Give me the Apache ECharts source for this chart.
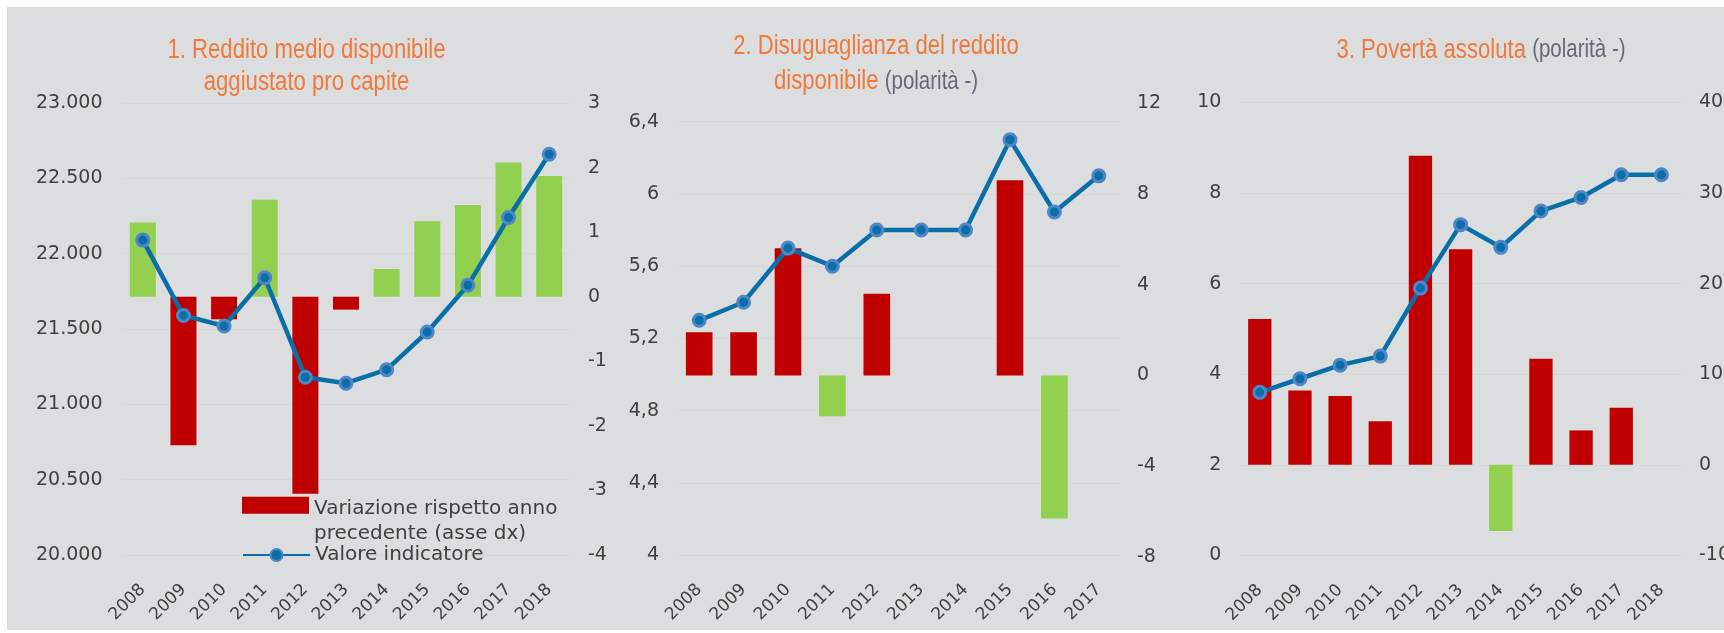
<!DOCTYPE html>
<html>
<head>
<meta charset="utf-8">
<script src="https://cdn.jsdelivr.net/npm/echarts@6/dist/echarts.min.js"></script>
<style>
  html, body { margin: 0; padding: 0; background: #ffffff; }
  #panel { position: absolute; left: 7px; top: 7px; width: 1717px; height: 623px; background: #dcdddf; }
  #chart { position: absolute; left: 0; top: 0; width: 1724px; height: 633px; }
</style>
</head>
<body>
<div id="panel"></div>
<div id="chart"></div>
<script>
// Years on the category axes
const anni2008_2018 = ['2008', '2009', '2010', '2011', '2012', '2013', '2014', '2015', '2016', '2017', '2018'];
const anni2008_2017 = ['2008', '2009', '2010', '2011', '2012', '2013', '2014', '2015', '2016', '2017'];

// 1. Reddito medio disponibile aggiustato pro capite (euro) and yearly change (%)
const redditoValore = [22090, 21590, 21520, 21840, 21180, 21140, 21230, 21480, 21790, 22240, 22660];
const redditoVariazione = [1.15, -2.3, -0.35, 1.5, -3.05, -0.2, 0.43, 1.17, 1.42, 2.08, 1.87];

// 2. Disuguaglianza del reddito disponibile and yearly change (%)
const disuguaglianzaValore = [5.3, 5.4, 5.7, 5.6, 5.8, 5.8, 5.8, 6.3, 5.9, 6.1];
const disuguaglianzaVariazione = [1.9, 1.9, 5.6, -1.8, 3.6, 0, 0, 8.6, -6.3, null];

// 3. Povertà assoluta (%) and yearly change (%)
const povertaValore = [3.6, 3.9, 4.2, 4.4, 5.9, 7.3, 6.8, 7.6, 7.9, 8.4, 8.4];
const povertaVariazione = [16.1, 8.2, 7.6, 4.8, 34.1, 23.8, -7.3, 11.7, 3.8, 6.3, 0];

// Axis ranges: [min, max, step]
const assiReddito = { valore: [20000, 23000, 500], variazione: [-4, 3, 1] };
const assiDisug = { valore: [4, 6.4, 0.4], variazione: [-8, 12, 4] };
const assiPoverta = { valore: [0, 10, 2], variazione: [-10, 40, 10] };

// Panel titles, one entry per line
const titolo1 = ['1. Reddito medio disponibile', 'aggiustato pro capite'];
const titolo2 = ['2. Disuguaglianza del reddito', 'disponibile'];
const titolo3 = ['3. Povertà assoluta'];
const notaPolarita = '(polarità -)';

const NOME_VAR = 'Variazione rispetto anno precedente (asse dx)';
const NOME_VAL = 'Valore indicatore';

const RED = '#c00000';
const GREEN = '#92d050';
const BLUE = '#0a6fa8';
const ORANGE = '#ef7a3a';
const GREY_NOTE = '#676878';
const TXT = '#404040';
const GRIDLINE = '#d5d6d8';
const TITLE_FONT = '"Liberation Sans", Arial, sans-serif';
const SANS = '"DejaVu Sans", sans-serif';
const TITLE_SCALE = 0.82;   // condensed look of the panel titles

const migliaio = v => String(v).replace(/\B(?=(\d{3})+(?!\d))/g, '.');
const decimale = v => String(Math.round(v * 10) / 10).replace('.', ',');

// polarity +1: a rise is good (green); -1: a rise is bad (red)
const coloreBarra = polarita => p => (p.value == null ? RED : (p.value * polarita >= 0 ? GREEN : RED));

function assey(gridIndex, position, range, margin, split, extraLabel) {
  return {
    type: 'value', gridIndex: gridIndex, position: position,
    min: range[0], max: range[1], interval: range[2],
    axisLine: { show: false }, axisTick: { show: false },
    axisLabel: Object.assign({
      margin: margin, fontFamily: SANS, fontSize: 19, color: TXT,
      align: position === 'left' ? 'right' : 'left'
    }, extraLabel || {}),
    splitLine: { show: split, lineStyle: { color: GRIDLINE, width: 1 } }
  };
}

function assex(gridIndex, data, margin, show) {
  return {
    type: 'category', gridIndex: gridIndex, data: data, show: show !== false,
    boundaryGap: true,
    axisLine: { show: false }, axisTick: { show: false }, splitLine: { show: false },
    axisLabel: { rotate: 45, interval: 0, margin: margin, fontFamily: SANS, fontSize: 17, color: TXT }
  };
}

function barre(xi, yi, data, polarita, larghezza) {
  return {
    type: 'bar', name: NOME_VAR, xAxisIndex: xi, yAxisIndex: yi, data: data,
    barWidth: larghezza, z: 2,
    itemStyle: { color: coloreBarra(polarita) }
  };
}

function linea(xi, yi, data) {
  return {
    type: 'line', name: NOME_VAL, xAxisIndex: xi, yAxisIndex: yi, data: data,
    symbol: 'circle', symbolSize: 12, z: 5,
    lineStyle: { color: BLUE, width: 4.5 },
    itemStyle: { color: BLUE, borderColor: '#4f86c6', borderWidth: 3 }
  };
}

// One condensed title line centred at (x, y)
const richTitolo = {
  o: { fontFamily: TITLE_FONT, fontSize: 27, fill: ORANGE, color: ORANGE },
  g: { fontFamily: TITLE_FONT, fontSize: 25, fill: GREY_NOTE, color: GREY_NOTE }
};
function rigaTitolo(x, y, testo, nota) {
  return {
    type: 'text', x: x, y: y, scaleX: TITLE_SCALE, z: 10,
    style: {
      text: nota ? '{o|' + testo + '} {g|' + nota + '}' : '{o|' + testo + '}',
      rich: richTitolo,
      fontFamily: TITLE_FONT, fontSize: 27, fill: ORANGE,
      align: 'center', verticalAlign: 'middle'
    }
  };
}

const option = {
  animation: false,
  backgroundColor: 'transparent',
  graphic: [
    rigaTitolo(306.5, 50.6, titolo1[0]),
    rigaTitolo(306.5, 82.3, titolo1[1]),
    rigaTitolo(876, 47, titolo2[0]),
    rigaTitolo(876, 82, titolo2[1], notaPolarita),
    rigaTitolo(1481, 50.6, titolo3[0], notaPolarita)
  ],
  legend: [
    {
      left: 242, top: 470.3, padding: 0, orient: 'vertical', selectedMode: false,
      icon: 'rect', itemWidth: 67, itemHeight: 17,
      data: [{ name: NOME_VAR, itemStyle: { color: RED } }],
      formatter: () => '{s| }\n{t|Variazione rispetto anno}\n{t|precedente (asse dx)}',
      textStyle: {
        fontFamily: SANS, fontSize: 20, color: TXT,
        rich: {
          s: { fontFamily: SANS, fontSize: 20, lineHeight: 31 },
          t: { fontFamily: SANS, fontSize: 20, lineHeight: 25, color: TXT }
        }
      }
    },
    {
      left: 242, top: 542.5, padding: 0, orient: 'vertical', selectedMode: false,
      itemWidth: 67, itemHeight: 15,
      data: [{ name: NOME_VAL }],
      textStyle: { fontFamily: SANS, fontSize: 20, color: TXT, lineHeight: 25 }
    }
  ],
  grid: [
    { left: 122.5, top: 103, width: 447, height: 452, outerBoundsMode: 'none' },
    { left: 677, top: 103, width: 444, height: 454, outerBoundsMode: 'none' },
    { left: 677, top: 121.7, width: 444, height: 433.3, outerBoundsMode: 'none' },
    { left: 1239.7, top: 102.3, width: 441.8, height: 453.2, outerBoundsMode: 'none' }
  ],
  xAxis: [
    assex(0, anni2008_2018, 32),
    assex(1, anni2008_2017, 30),
    assex(2, anni2008_2017, 30, false),
    assex(3, anni2008_2018, 32)
  ],
  yAxis: [
    assey(0, 'left', assiReddito.valore, 20, true, { formatter: migliaio }),
    assey(0, 'right', assiReddito.variazione, 18.5, false),
    assey(1, 'right', assiDisug.variazione, 16, false),
    assey(2, 'left', assiDisug.valore, 18, true, { formatter: decimale }),
    assey(3, 'left', assiPoverta.valore, 18.3, true),
    assey(3, 'right', assiPoverta.variazione, 17.5, false)
  ],
  series: [
    barre(0, 1, redditoVariazione, 1, '64%'),
    barre(1, 2, disuguaglianzaVariazione, -1, '60%'),
    barre(3, 5, povertaVariazione, -1, '58%'),
    linea(0, 0, redditoValore),
    linea(2, 3, disuguaglianzaValore),
    linea(3, 4, povertaValore)
  ]
};

const chart = echarts.init(document.getElementById('chart'), null, { renderer: 'canvas' });
chart.setOption(option);
</script>
</body>
</html>
